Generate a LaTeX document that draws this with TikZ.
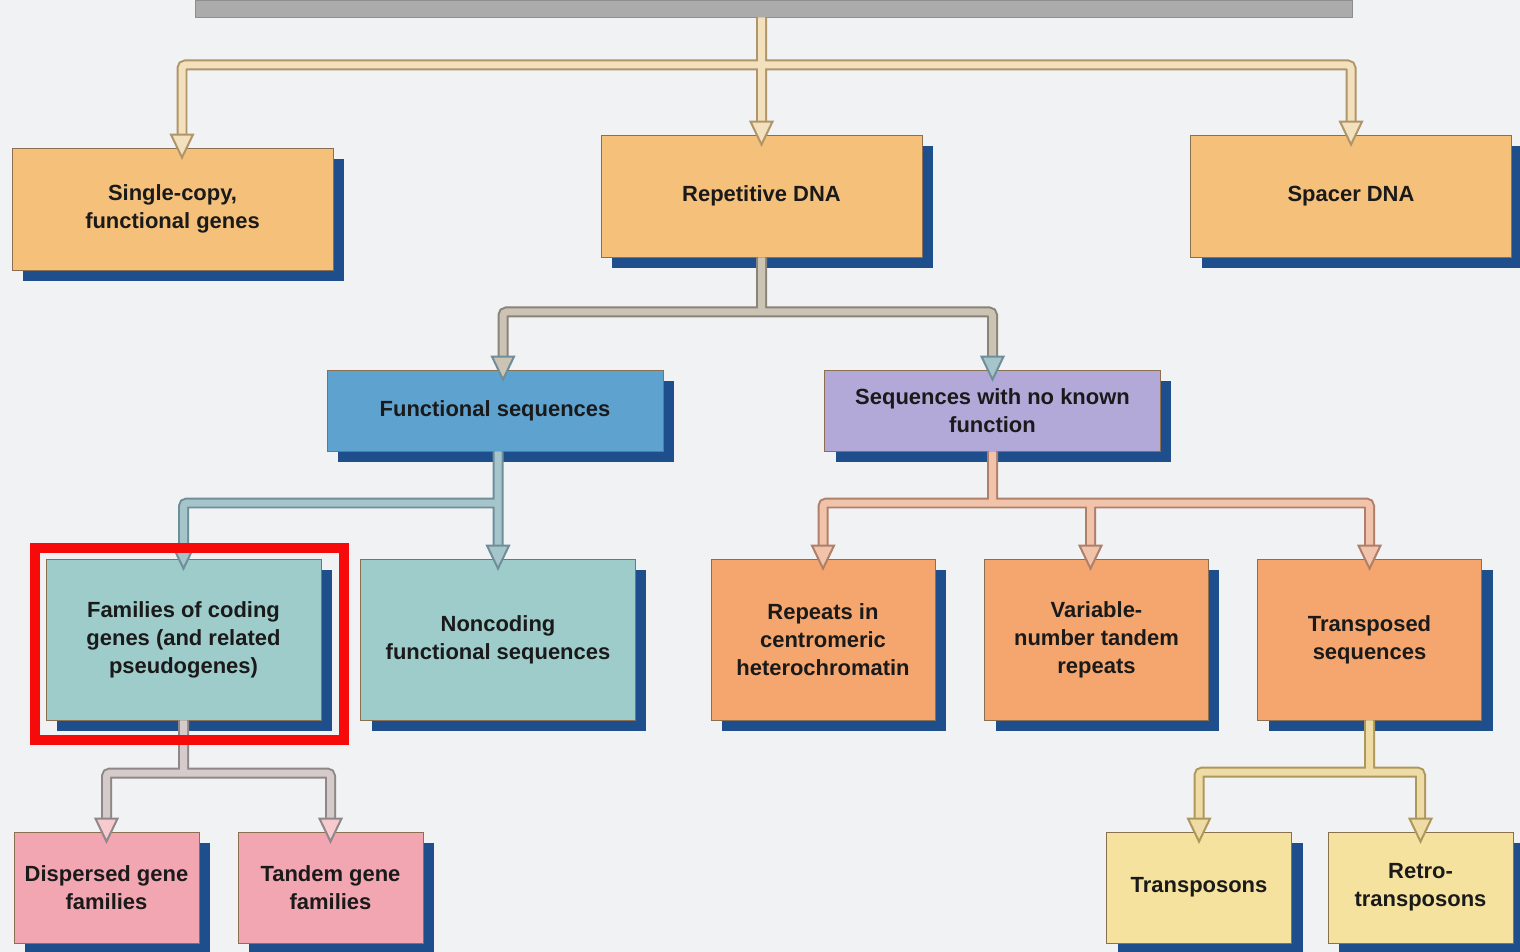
\documentclass[tikz,border=0pt]{standalone}
\usepackage{fontspec}
\setmainfont{Liberation Sans}
\usepackage{tikz}
\usetikzlibrary{shadows}

\definecolor{bgc}{HTML}{F1F2F3}
\definecolor{barc}{HTML}{ABABAB}
\definecolor{barline}{HTML}{8E8E8E}
\definecolor{boxline}{HTML}{8A7050}
\definecolor{shade}{HTML}{1E4E8C}
\definecolor{txt}{HTML}{1A1A1A}
\definecolor{gold}{HTML}{F4C07A}
\definecolor{funcblue}{HTML}{5EA3D0}
\definecolor{lilac}{HTML}{B3A9D9}
\definecolor{teal}{HTML}{9ECCCB}
\definecolor{peach}{HTML}{F4A66E}
\definecolor{rose}{HTML}{F2A6B1}
\definecolor{paleyel}{HTML}{F4E29E}
\definecolor{tanline}{HTML}{B0946A}
\definecolor{tanfill}{HTML}{F3E0BC}
\definecolor{greyline}{HTML}{8A8377}
\definecolor{greyfill}{HTML}{CBC3B3}
\definecolor{blueline}{HTML}{6E8E9A}
\definecolor{bluefill}{HTML}{A6C5CB}
\definecolor{salline}{HTML}{B07F69}
\definecolor{salfill}{HTML}{F2C3AB}
\definecolor{roseline}{HTML}{8E8888}
\definecolor{rosefill}{HTML}{D6CBCB}
\definecolor{yelline}{HTML}{AE975B}
\definecolor{yelfill}{HTML}{EFDBA5}
\definecolor{mark}{HTML}{F70A0A}

\begin{document}
\begin{tikzpicture}[x=0.02cm,y=-0.02cm]
    %
    % `box' is used for every category box, the others only set its size.
    % `pipe' and `head' are used for the hollow connectors.
    % `highlight' is used for the red frame.
    \tikzstyle{box} = [draw=boxline,line width=0.5pt,align=center,inner sep=2pt,text=txt,font=\fontsize{12.5}{16}\selectfont\bfseries,drop shadow={shadow xshift=0.22cm,shadow yshift=-0.22cm,fill=shade,opacity=1}]
    \tikzstyle{wide} = [box,minimum width=6.42cm,minimum height=2.44cm]
    \tikzstyle{flat} = [box,minimum width=6.72cm,minimum height=1.62cm]
    \tikzstyle{tall} = [box,minimum width=5.5cm,minimum height=3.22cm]
    \tikzstyle{narrow} = [box,minimum width=4.48cm,minimum height=3.22cm]
    \tikzstyle{small} = [box,minimum width=3.7cm,minimum height=2.22cm]
    \tikzstyle{pipe} = [line width=0.04cm,double distance=0.14cm,rounded corners=2pt]
    \tikzstyle{head} = [line width=0.04cm,line join=miter]
    \tikzstyle{highlight} = [draw=mark,line width=0.2cm]
    %
    \useasboundingbox (0,0) rectangle (1520,952);
    \fill[bgc] (0,0) rectangle (1520,952);
    %
    % Genome bar (cut off at the top)
    \node[fill=barc,draw=barline,minimum width=23.14cm,minimum height=0.34cm,inner sep=0pt] (genome) at (773.5,8.5) {};
    %
    % Row 1
    \node[wide,fill=gold] (single) at (172.5,209) {Single-copy,\\functional genes};
    \node[wide,fill=gold] (repet) at (761.5,196) {Repetitive DNA};
    \node[wide,fill=gold] (spacer) at (1351,196) {Spacer DNA};
    %
    % Row 2
    \node[flat,fill=funcblue] (func) at (495,410.5) {Functional sequences};
    \node[flat,fill=lilac] (noknown) at (992.5,410.5) {Sequences with no known\\function};
    %
    % Row 3
    \node[tall,fill=teal] (families) at (183.5,639.5) {Families of coding\\genes (and related\\pseudogenes)};
    \node[tall,fill=teal] (noncoding) at (498,639.5) {Noncoding\\functional sequences};
    \node[narrow,fill=peach] (repeats) at (823,639.5) {Repeats in\\centromeric\\heterochromatin};
    \node[narrow,fill=peach] (variable) at (1096.5,639.5) {Variable-\\number tandem\\repeats};
    \node[narrow,fill=peach] (transposed) at (1369.5,639.5) {Transposed\\sequences};
    %
    % Row 4
    \node[small,fill=rose] (dispersed) at (106.5,887.5) {Dispersed gene\\families};
    \node[small,fill=rose] (tandem) at (330.5,887.5) {Tandem gene\\families};
    \node[small,fill=paleyel] (transposons) at (1199,887.5) {Transposons};
    \node[small,fill=paleyel] (retro) at (1420.5,887.5) {Retro-\\transposons};
    %
    % Where the arrows come in
    \coordinate (insingle) at ([xshift=0.19cm]single.north);
    \coordinate (infunc) at ([xshift=0.16cm]func.north);
    \coordinate (invariable) at ([xshift=-0.12cm]variable.north);
    %
    % Branch levels
    \coordinate (lvla) at (761.5,65);
    \coordinate (lvlb) at (761.5,312);
    \coordinate (lvlc) at (498,503);
    \coordinate (lvld) at (992.5,503);
    \coordinate (lvle) at (183.5,773);
    \coordinate (lvlf) at (1369.5,772);
    %
    % Connectors
    \draw[pipe,draw=tanline,double=tanfill] (genome.south -| repet.north) -- ([yshift=0.26cm]repet.north)
        ([yshift=0.26cm]insingle) |- (lvla) -| ([yshift=0.26cm]spacer.north);
    \draw[pipe,draw=greyline,double=greyfill] (repet.south) -- (lvlb)
        ([yshift=0.26cm]infunc) |- (lvlb) -| ([yshift=0.26cm]noknown.north);
    \draw[pipe,draw=blueline,double=bluefill] (func.south -| lvlc) -- ([yshift=0.26cm]noncoding.north)
        ([yshift=0.26cm]families.north) |- (lvlc);
    \draw[pipe,draw=salline,double=salfill] (noknown.south) -- (lvld)
        ([yshift=0.26cm]repeats.north) |- (lvld) -| ([yshift=0.26cm]transposed.north)
        ([yshift=0.26cm]invariable) -- (invariable |- lvld);
    \draw[pipe,draw=roseline,double=rosefill] (families.south) -- (lvle)
        ([yshift=0.26cm]dispersed.north) |- (lvle) -| ([yshift=0.26cm]tandem.north);
    \draw[pipe,draw=yelline,double=yelfill] (transposed.south) -- (lvlf)
        ([yshift=0.26cm]transposons.north) |- (lvlf) -| ([yshift=0.26cm]retro.north);
    %
    % Arrow heads
    \filldraw[head,draw=tanline,fill=tanfill] ([yshift=-0.2cm]insingle) ++(-11,-23) -- ++(11,23) -- ++(11,-23) -- cycle;
    \filldraw[head,draw=tanline,fill=tanfill] ([yshift=-0.2cm]repet.north) ++(-11,-23) -- ++(11,23) -- ++(11,-23) -- cycle;
    \filldraw[head,draw=tanline,fill=tanfill] ([yshift=-0.2cm]spacer.north) ++(-11,-23) -- ++(11,23) -- ++(11,-23) -- cycle;
    \filldraw[head,draw=blueline,fill=greyfill] ([yshift=-0.2cm]infunc) ++(-11,-23) -- ++(11,23) -- ++(11,-23) -- cycle;
    \filldraw[head,draw=blueline,fill=bluefill] ([yshift=-0.2cm]noknown.north) ++(-11,-23) -- ++(11,23) -- ++(11,-23) -- cycle;
    \filldraw[head,draw=blueline,fill=bluefill] ([yshift=-0.2cm]families.north) ++(-11,-23) -- ++(11,23) -- ++(11,-23) -- cycle;
    \filldraw[head,draw=blueline,fill=bluefill] ([yshift=-0.2cm]noncoding.north) ++(-11,-23) -- ++(11,23) -- ++(11,-23) -- cycle;
    \filldraw[head,draw=salline,fill=salfill] ([yshift=-0.2cm]repeats.north) ++(-11,-23) -- ++(11,23) -- ++(11,-23) -- cycle;
    \filldraw[head,draw=salline,fill=salfill] ([yshift=-0.2cm]invariable) ++(-11,-23) -- ++(11,23) -- ++(11,-23) -- cycle;
    \filldraw[head,draw=salline,fill=salfill] ([yshift=-0.2cm]transposed.north) ++(-11,-23) -- ++(11,23) -- ++(11,-23) -- cycle;
    \filldraw[head,draw=roseline,fill=rose!60] ([yshift=-0.2cm]dispersed.north) ++(-11,-23) -- ++(11,23) -- ++(11,-23) -- cycle;
    \filldraw[head,draw=roseline,fill=rose!60] ([yshift=-0.2cm]tandem.north) ++(-11,-23) -- ++(11,23) -- ++(11,-23) -- cycle;
    \filldraw[head,draw=yelline,fill=yelfill] ([yshift=-0.2cm]transposons.north) ++(-11,-23) -- ++(11,23) -- ++(11,-23) -- cycle;
    \filldraw[head,draw=yelline,fill=yelfill] ([yshift=-0.2cm]retro.north) ++(-11,-23) -- ++(11,23) -- ++(11,-23) -- cycle;
    %
    % Red frame round the families box
    \draw[highlight] (35,548) rectangle (344,740);
    %
\end{tikzpicture}
\end{document}
